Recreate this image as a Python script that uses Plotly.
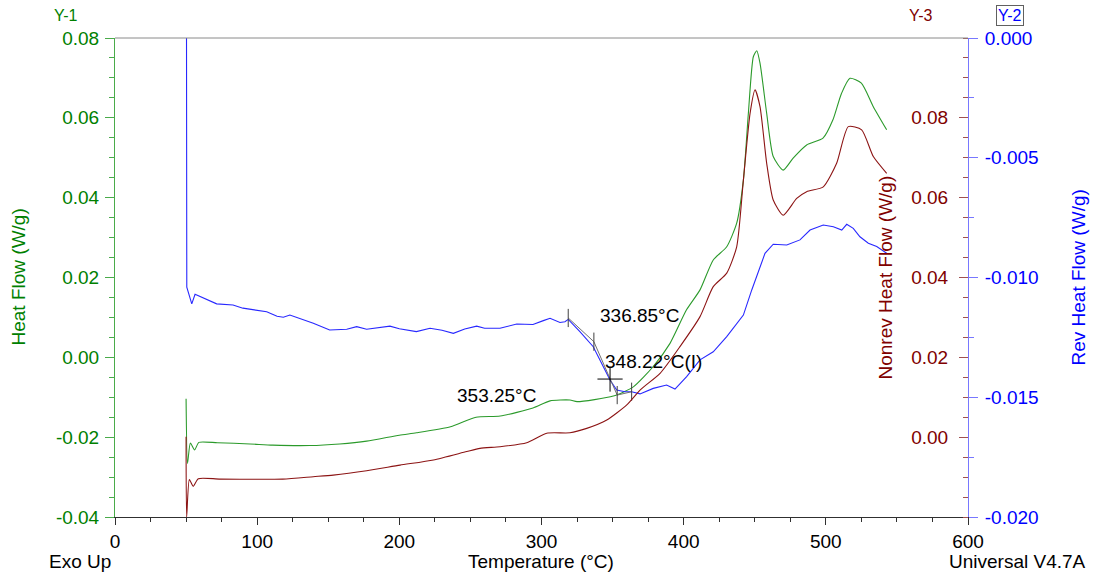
import plotly.graph_objects as go

# ---- Measured MDSC signals -------------------------------------------------
# Total heat flow (Y-1, W/g)
heat_T = [50, 51, 53, 56, 59, 72, 95, 111, 137, 158, 177, 200, 212, 236, 254,
          271, 294, 306, 320, 325, 350.5, 364.6, 378.6, 390.4, 402, 411.5,
          420.8, 430.3, 437.3, 442, 445.5, 449, 451.4, 453.7, 458.4, 463, 470,
          477, 486.5, 498, 505, 511, 517, 525, 533.4, 542.8]
heat_flow = [-0.0104, -0.0266, -0.0215, -0.0232, -0.0213, -0.0214, -0.0217,
             -0.0220, -0.0221, -0.0217, -0.0210, -0.0195, -0.0189, -0.0174,
             -0.0150, -0.0147, -0.0127, -0.0109, -0.0107, -0.0111, -0.0097,
             -0.0074, -0.0023, 0.0035, 0.0119, 0.0169, 0.0244, 0.0277, 0.0336,
             0.0444, 0.0611, 0.0753, 0.0768, 0.0737, 0.0611, 0.0503, 0.0469,
             0.0499, 0.0532, 0.0549, 0.0595, 0.0661, 0.0699, 0.0687, 0.0628,
             0.0570]

# Non-reversing heat flow (Y-3, W/g)
nonrev_T = [50, 50.4, 52.3, 55, 58.6, 74, 118, 139.5, 153.5, 177, 200.5, 224,
            247.4, 256.7, 270.8, 289.6, 303.7, 320, 331.8, 345.9, 360, 369.3,
            383.4, 397.4, 411.5, 420.8, 430.3, 437.3, 442, 446.7, 450.2, 453.7,
            458.4, 463, 470, 479.5, 486.5, 498.2, 507.6, 515.8, 525.2, 533.4,
            542.8]
nonrev_flow = [0.0001, -0.0200, -0.0106, -0.0123, -0.0104, -0.0105, -0.0105,
               -0.0099, -0.0095, -0.0084, -0.0070, -0.0057, -0.0036, -0.0028,
               -0.0024, -0.0014, 0.0010, 0.0011, 0.0022, 0.0043, 0.0081, 0.0118,
               0.0160, 0.0227, 0.0302, 0.0377, 0.0411, 0.0477, 0.0644, 0.0811,
               0.0870, 0.0828, 0.0686, 0.0594, 0.0556, 0.0598, 0.0615, 0.0627,
               0.0686, 0.0778, 0.0770, 0.0703, 0.0661]

# Reversing heat flow (Y-2, W/g)
rev_T = [50.3, 50.5, 54, 56.3, 71.5, 83, 90, 106.7, 114, 118.4, 123, 130,
         139.5, 151, 163, 170, 177, 193.4, 200, 212, 221.6, 230, 238, 246,
         254.4, 260, 270.8, 282.6, 294, 301.3, 306, 313, 316.5, 318.8, 327,
         336.4, 343.5, 348.2, 352.9, 358.7, 363.4, 369.3, 378.6, 388, 393.9,
         402.1, 411.5, 420.8, 430.3, 442, 447.9, 453.7, 457.2, 463, 472.5,
         481.8, 488.9, 498.2, 505.3, 511.2, 514.7, 519.3, 524, 529.9, 535.8,
         542.8]
rev_flow = [0.0, -0.0104, -0.0111, -0.0107, -0.0111, -0.01115, -0.01128,
            -0.01143, -0.01162, -0.01166, -0.01157, -0.01172, -0.01191,
            -0.01219, -0.01216, -0.01205, -0.01216, -0.01203, -0.01214,
            -0.01226, -0.01212, -0.01220, -0.01233, -0.01215, -0.01203,
            -0.01212, -0.01212, -0.01194, -0.01196, -0.01180, -0.01170,
            -0.01188, -0.01185, -0.01175, -0.01226, -0.01289, -0.01372,
            -0.01428, -0.01470, -0.01477, -0.01477, -0.01486, -0.01463,
            -0.01449, -0.01466, -0.01414, -0.01344, -0.01310, -0.01247,
            -0.01157, -0.01052, -0.00955, -0.00899, -0.00861, -0.00864,
            -0.00843, -0.00802, -0.00781, -0.00788, -0.00802, -0.00778,
            -0.00795, -0.00830, -0.00857, -0.00871, -0.00899]

# Glass-transition analysis on the reversing signal
tg_onset = 336.85
tg_inflection = 348.22
tg_end = 353.25
tg_construction_T = [318.8, tg_onset, tg_end, 363.4]
tg_construction_v = [-0.01169, -0.01268, -0.01491, -0.01477]
tg_inflection_v = -0.01424

# Axis ticks
x_ticks = [0, 100, 200, 300, 400, 500, 600]
heat_ticks = [-0.04, -0.02, 0.00, 0.02, 0.04, 0.06, 0.08]
nonrev_ticks = [0.00, 0.02, 0.04, 0.06, 0.08]
rev_ticks = [-0.020, -0.015, -0.010, -0.005, 0.000]

# ---- Styling ----------------------------------------------------------------
W, H = 1094, 578
L, R, T, B = 115, 126, 38, 61
FONT = "Arial, Liberation Sans, sans-serif"
FS = 19
GREEN = "#008000"
GREEN_LINE = "#2b9a2b"
GREEN_AXIS = "#4aab4a"
RED = "#800000"
RED_LINE = "#8c1414"
RED_TICK = "#a05050"
BLUE = "#0000ff"
BLUE_LINE = "#2828ff"
BLUE_AXIS = "#7878ff"


def px(xp):
    return (xp - L) / (W - L - R)


def py(yp):
    return (H - B - yp) / (H - T - B)


def labels_for(values, fmt):
    # plain hyphen for negatives, as the instrument software prints them
    return [format(v, fmt).replace("−", "-") for v in values]


fig = go.Figure()

fig.add_trace(go.Scatter(x=heat_T, y=heat_flow, mode="lines", yaxis="y",
                         line=dict(color=GREEN_LINE, width=1.1,
                                   shape="spline", smoothing=0.6)))
fig.add_trace(go.Scatter(x=nonrev_T, y=nonrev_flow, mode="lines", yaxis="y3",
                         line=dict(color=RED_LINE, width=1.1,
                                   shape="spline", smoothing=0.6)))
fig.add_trace(go.Scatter(x=rev_T, y=rev_flow, mode="lines", yaxis="y2",
                         line=dict(color=BLUE_LINE, width=1.1)))

# tangent construction
fig.add_trace(go.Scatter(x=tg_construction_T, y=tg_construction_v, mode="lines+markers",
                         yaxis="y2",
                         line=dict(color="#707070", width=1),
                         marker=dict(symbol="line-ns", size=13,
                                     line=dict(color="#404040", width=1))))
fig.add_trace(go.Scatter(x=[tg_inflection], y=[tg_inflection_v], mode="markers",
                         yaxis="y2",
                         marker=dict(symbol="cross-thin", size=18,
                                     line=dict(color="#000000", width=1))))

axis_font = dict(family=FONT, size=FS)

fig.update_layout(
    width=W, height=H,
    margin=dict(l=L, r=R, t=T, b=B, pad=0),
    paper_bgcolor="white", plot_bgcolor="white",
    showlegend=False,
    xaxis=dict(range=[0, 600], showgrid=False, zeroline=False,
               showline=True, linecolor="#303030", linewidth=1,
               ticks="outside", ticklen=7, tickcolor="#303030",
               tickvals=x_ticks, ticktext=[str(v) for v in x_ticks],
               tickfont=dict(axis_font, color="black"),
               minor=dict(dtick=25, tick0=0, ticks="outside", ticklen=4,
                          tickcolor="#303030")),
    yaxis=dict(range=[-0.04, 0.08], showgrid=False, zeroline=False,
               showline=True, linecolor=GREEN_AXIS, linewidth=1,
               ticks="outside", ticklen=9, tickcolor=GREEN_AXIS,
               tickvals=heat_ticks, ticktext=labels_for(heat_ticks, ".2f"),
               ticklabelstandoff=2,
               tickfont=dict(axis_font, color=GREEN),
               minor=dict(dtick=0.005, tick0=0, ticks="outside", ticklen=5,
                          tickcolor=GREEN_AXIS)),
    yaxis2=dict(range=[-0.02, 0.0], overlaying="y", side="right", anchor="x",
                showgrid=False, zeroline=False,
                showline=True, linecolor=BLUE_AXIS, linewidth=1,
                ticks="outside", ticklen=9, tickcolor=BLUE_AXIS,
                tickvals=rev_ticks, ticktext=labels_for(rev_ticks, ".3f"),
                ticklabelstandoff=3,
                tickfont=dict(axis_font, color=BLUE),
                minor=dict(dtick=0.0025, tick0=0, ticks="outside", ticklen=5,
                           tickcolor=BLUE_AXIS)),
    # Nonrev scale sits on the right frame edge, labelled towards the plot
    yaxis3=dict(range=[-0.02, 0.10], overlaying="y", side="left",
                anchor="free", position=1,
                showgrid=False, zeroline=False, showline=False,
                ticks="outside", ticklen=9, tickcolor=RED_TICK,
                ticklabelstandoff=7,
                tickvals=nonrev_ticks, ticktext=labels_for(nonrev_ticks, ".2f"),
                tickfont=dict(axis_font, color=RED),
                minor=dict(dtick=0.005, tick0=0, ticks="outside", ticklen=5,
                           tickcolor=RED_TICK)),
)

# top frame line
fig.add_shape(type="line", xref="paper", yref="paper", x0=0, x1=1, y0=1, y1=1,
              line=dict(color="#8a8a8a", width=1))

ann = []
# axis titles
ann.append(dict(text="Heat Flow (W/g)", x=px(18), y=py(277.5), textangle=-90,
                font=dict(family=FONT, size=FS, color=GREEN)))
ann.append(dict(text="Nonrev Heat Flow (W/g)", x=px(885), y=py(277.5), textangle=-90,
                font=dict(family=FONT, size=FS, color=RED)))
ann.append(dict(text="Rev Heat Flow (W/g)", x=px(1078), y=py(277.5), textangle=-90,
                font=dict(family=FONT, size=FS, color=BLUE)))
ann.append(dict(text="Temperature (°C)", x=px(541), y=py(561),
                font=dict(family=FONT, size=FS, color="black")))
ann.append(dict(text="Exo Up", x=px(47), y=py(561), xanchor="left",
                font=dict(family=FONT, size=FS, color="black")))
ann.append(dict(text="Universal V4.7A", x=px(1088), y=py(561), xanchor="right",
                font=dict(family=FONT, size=FS, color="black")))
# axis identifiers
ann.append(dict(text="Y-1", x=px(66), y=py(16),
                font=dict(family=FONT, size=16, color=GREEN)))
ann.append(dict(text="Y-3", x=px(921), y=py(16),
                font=dict(family=FONT, size=16, color=RED)))
ann.append(dict(text="Y-2", x=px(1010), y=py(16), bordercolor="#606060",
                borderwidth=1, borderpad=1,
                font=dict(family=FONT, size=16, color=BLUE)))
for a in ann:
    a.update(xref="paper", yref="paper", showarrow=False,
             xanchor=a.get("xanchor", "center"), yanchor="middle")

# transition labels, placed next to the points they describe
labels = [
    (f"{tg_onset:.2f}°C", 339.7, -0.01157, "left"),
    (f"{tg_inflection:.2f}°C(I)", 343.5, -0.01352, "left"),
    (f"{tg_end:.2f}°C", 297.5, -0.01491, "right"),
]
for text, xv, yv, anchor in labels:
    ann.append(dict(text=text, x=xv, y=yv, xref="x", yref="y2",
                    xanchor=anchor, yanchor="middle", showarrow=False,
                    font=dict(family=FONT, size=FS, color="black")))

fig.update_layout(annotations=ann)
fig.write_html("out.html")
